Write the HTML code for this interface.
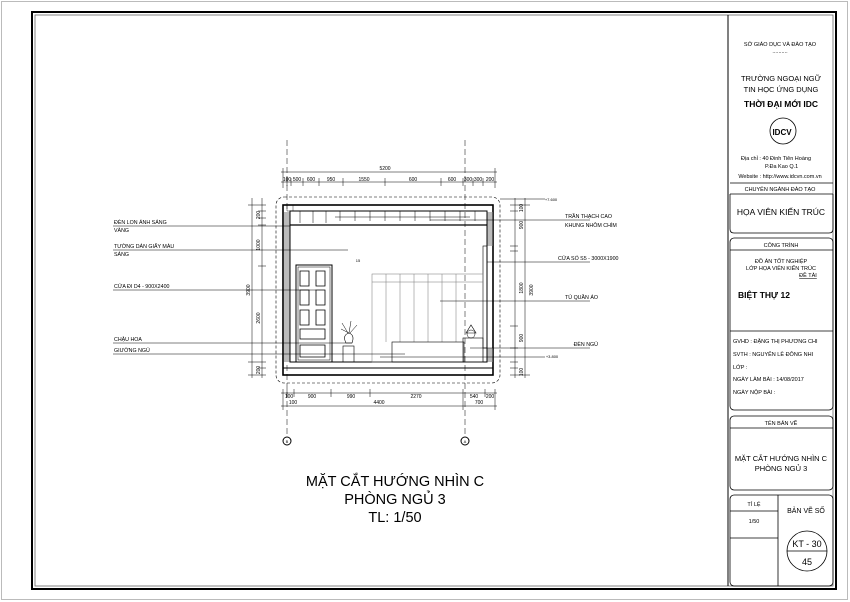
<!DOCTYPE html>
<html><head><meta charset="utf-8"><style>
body{margin:0;background:#fff}
svg{display:block}
text{font-family:"Liberation Sans","Noto Sans CJK SC",sans-serif;fill:#000}
</style></head><body>
<svg width="850" height="602" viewBox="0 0 850 602" xmlns="http://www.w3.org/2000/svg">
<rect x="1.5" y="1.5" width="846" height="598" fill="none" stroke="#bbb" stroke-width="1"/>
<rect x="32" y="12" width="804" height="577" fill="none" stroke="#000" stroke-width="2"/>
<rect x="35" y="15" width="798" height="571" fill="none" stroke="#666" stroke-width="0.8"/>
<line x1="728" y1="15" x2="728" y2="586" stroke="#000" stroke-width="1"/>

<!-- title block -->
<g stroke="#000" stroke-width="0.8" fill="none">
<line x1="730" y1="183" x2="833" y2="183"/>
<line x1="730" y1="194" x2="833" y2="194"/>
<path d="M730 194 V229 q0 4 4 4 H829 q4 0 4-4 V194"/>
<rect x="730" y="238" width="103" height="172" rx="4"/>
<line x1="730" y1="250" x2="833" y2="250"/>
<line x1="730" y1="331" x2="833" y2="331"/>
<rect x="730" y="416" width="103" height="74" rx="4"/>
<line x1="730" y1="428" x2="833" y2="428"/>
<rect x="730" y="495" width="103" height="91" rx="4"/>
<line x1="778" y1="495" x2="778" y2="586"/>
<line x1="730" y1="511" x2="778" y2="511"/>
<line x1="730" y1="538" x2="778" y2="538"/>
<circle cx="807" cy="551" r="20"/>
<line x1="787" y1="551" x2="827" y2="551"/>
<circle cx="783" cy="131" r="13"/>
</g>
<g font-size="5.5" text-anchor="middle">
<text x="780" y="46">SỞ GIÁO DỤC VÀ ĐÀO TẠO</text>
<text x="780" y="53">..........</text>
<text x="781" y="81" font-size="7.5">TRƯỜNG NGOẠI NGỮ</text>
<text x="781" y="92" font-size="7.5">TIN HỌC ỨNG DỤNG</text>
<text x="781" y="107" font-size="8.5" font-weight="bold">THỜI ĐẠI MỚI IDC</text>
<text x="782" y="135" font-size="8" font-weight="bold" font-family="Liberation Serif">IDCV</text>
<text x="741" y="160" style="text-anchor:start">Địa chỉ  : 40 Đinh Tiên Hoàng</text>
<text x="765" y="168" style="text-anchor:start">P.Đa Kao   Q.1</text>
<text x="780" y="178">Website : http://www.idcvn.com.vn</text>
<text x="780" y="191">CHUYÊN NGÀNH ĐÀO TẠO</text>
<text x="781" y="215" font-size="8.5">HỌA VIÊN KIẾN TRÚC</text>
<text x="781" y="247">CÔNG TRÌNH</text>
<text x="781" y="263">ĐỒ ÁN TỐT NGHIỆP</text>
<text x="781" y="270">LỚP HỌA VIÊN KIẾN TRÚC</text>
<text x="808" y="277" text-decoration="underline">ĐỀ TÀI</text>
<text x="738" y="298" font-size="8.5" font-weight="bold" style="text-anchor:start">BIỆT THỰ 12</text>
<g style="text-anchor:start">
<text x="733" y="343">GVHD  : ĐẶNG THỊ PHƯƠNG CHI</text>
<text x="733" y="356">SVTH   : NGUYỄN LÊ ĐÔNG NHI</text>
<text x="733" y="369">LỚP      :</text>
<text x="733" y="381">NGÀY LÀM BÀI  :  14/08/2017</text>
<text x="733" y="394">NGÀY NỘP BÀI  :</text>
</g>
<text x="781" y="425">TÊN BẢN VẼ</text>
<text x="781" y="461" font-size="7.5">MẶT CẮT HƯỚNG NHÌN C</text>
<text x="781" y="471" font-size="7.5">PHÒNG NGỦ 3</text>
<text x="754" y="506">TỈ LỆ</text>
<text x="754" y="523">1/50</text>
<text x="806" y="513" font-size="7">BẢN VẼ SỐ</text>
<text x="807" y="547" font-size="9">KT - 30</text>
<text x="807" y="565" font-size="9">45</text>
</g>

<!-- drawing -->
<g stroke="#000" fill="none">
<rect x="276" y="197" width="224" height="186" rx="8" stroke-dasharray="3 2" stroke-width="0.6"/>
<line x1="287" y1="140" x2="287" y2="436" stroke-dasharray="6 3" stroke-width="0.5"/>
<line x1="465" y1="140" x2="465" y2="436" stroke-dasharray="6 3" stroke-width="0.5"/>
<circle cx="287" cy="441" r="4" stroke-width="1"/>
<circle cx="465" cy="441" r="4" stroke-width="1"/>
<rect x="283" y="205" width="210" height="170" stroke-width="1.6"/>
<rect x="290" y="211" width="197" height="151" stroke-width="1"/>
<line x1="283" y1="368" x2="493" y2="368" stroke-width="1"/>
<line x1="290" y1="225" x2="487" y2="225" stroke-width="1.2"/>
<line x1="335" y1="217" x2="470" y2="217" stroke-width="0.5"/>
<path d="M300 211 v12 M313 211 v12 M326 211 v12 M340 211 v10 M355 211 v10 M370 211 v10 M385 211 v10 M400 211 v10 M415 211 v10 M430 211 v10 M445 211 v10 M460 211 v10 M475 211 v10" stroke-width="0.5"/>
<rect x="483" y="246" width="4" height="102" stroke-width="0.6"/>
<!-- door -->
<rect x="296" y="265" width="36" height="97" stroke-width="1"/>
<rect x="298" y="267" width="32" height="93" stroke-width="0.5"/>
<path d="M300 271h9v15h-9z M316 271h9v15h-9z M300 290h9v15h-9z M316 290h9v15h-9z M300 310h9v15h-9z M316 310h9v15h-9z M300 329h25v10h-25z M300 345h25v12h-25z" stroke-width="0.8"/>
<!-- wardrobe -->
<g stroke="#777" stroke-width="0.5">
<rect x="372" y="274" width="111" height="88"/>
<line x1="372" y1="282" x2="483" y2="282"/>
<path d="M386 274v68 M400 274v68 M414 274v68 M428 274v68 M442 274v68 M456 274v68"/>
</g>
<rect x="392" y="342" width="72" height="20" stroke-width="0.6"/>
<rect x="463" y="338" width="20" height="24" stroke-width="0.6"/>
<path d="M466 333l5-8 5 8z" stroke-width="0.6"/>
<circle cx="471" cy="334" r="4" stroke-width="0.5"/>
<rect x="343" y="346" width="11" height="16" stroke-width="0.6"/>
<path d="M346 343q-4-8 3-10q6 2 3 10z" stroke-width="0.6"/>
<path d="M348 333l-6-10 M349 333l2-12 M350 333l7-8 M349 333l-8-4" stroke-width="0.5"/>
<path d="M287 205 h6v6h-6z" stroke-width="0.4"/>
</g>
<g fill="#bbb"><rect x="284" y="212" width="5.5" height="150"/><rect x="487.5" y="212" width="5" height="34"/><rect x="487.5" y="348" width="5" height="14"/></g>
<g stroke="#000" stroke-width="0.5" fill="none">
<line x1="281" y1="172" x2="497" y2="172"/><line x1="281" y1="182" x2="497" y2="182"/>
<path d="M283 168v20 M495 168v20 M287 178v8 M291 178v8 M303 178v8 M319 178v8 M343 178v8 M385 178v8 M441 178v8 M463 178v8 M473 178v8 M483 178v8"/>
<line x1="281" y1="393" x2="497" y2="393"/><line x1="281" y1="406" x2="497" y2="406"/>
<path d="M283 389v21 M495 389v21 M287 389v8 M294 389v8 M331 389v8 M370 389v8 M463 389v21 M485 389v8"/>
<line x1="252" y1="198" x2="252" y2="378"/><line x1="262" y1="198" x2="262" y2="378"/>
<path d="M248 205h18 M258 211h8 M258 218h8 M258 225h8 M258 266h8 M248 362h18 M258 368h8 M248 375h18"/>
<line x1="515" y1="198" x2="515" y2="378"/><line x1="525" y1="198" x2="525" y2="378"/>
<path d="M510 205h20 M510 211h8 M510 246h8 M510 251h8 M510 326h8 M510 348h8 M510 362h8 M510 368h8 M510 375h20"/>
<path d="M113 226H290 M113 250H348 M113 290H316 M113 343H352 M113 354H405"/>
<path d="M430 220H590 M487 262H590 M440 301H590 M470 348H590"/>
<path d="M500 199h45 M380 357h165"/>
</g>
<g font-size="5" text-anchor="middle">
<text x="385" y="170">5200</text>
<text x="287" y="181">100</text><text x="297" y="181">500</text><text x="311" y="181">600</text><text x="331" y="181">950</text><text x="364" y="181">1550</text><text x="413" y="181">600</text><text x="452" y="181">600</text><text x="468" y="181">300</text><text x="478" y="181">300</text><text x="490" y="181">200</text>
<text x="289" y="398">100</text><text x="312" y="398">900</text><text x="351" y="398">990</text><text x="416" y="398">2270</text><text x="474" y="398">540</text><text x="490" y="398">200</text>
<text x="293" y="404">100</text>
<text x="379" y="404">4400</text><text x="479" y="404">700</text>
<text x="358" y="262" font-size="4">15</text>
<text x="551" y="201" font-size="4">+7.600</text><text x="552" y="358" font-size="4">+3.800</text>
</g>
<g font-size="5" text-anchor="middle">
<text transform="translate(250,290) rotate(-90)">3900</text>
<text transform="translate(260,318) rotate(-90)">2600</text>
<text transform="translate(260,245) rotate(-90)">1000</text>
<text transform="translate(260,215) rotate(-90)">200</text>
<text transform="translate(260,370) rotate(-90)">200</text>
<text transform="translate(523,225) rotate(-90)">900</text>
<text transform="translate(523,288) rotate(-90)">1800</text>
<text transform="translate(523,338) rotate(-90)">900</text>
<text transform="translate(533,290) rotate(-90)">3900</text>
<text transform="translate(523,208) rotate(-90)">100</text>
<text transform="translate(523,372) rotate(-90)">100</text>
</g>
<g font-size="5.3">
<text x="114" y="224">ĐÈN LON ÁNH SÁNG</text><text x="114" y="232">VÀNG</text>
<text x="114" y="248">TƯỜNG DÁN GIẤY MÀU</text><text x="114" y="256">SÁNG</text>
<text x="114" y="288">CỬA ĐI D4 - 900X2400</text>
<text x="114" y="341">CHẬU HOA</text>
<text x="114" y="352">GIƯỜNG NGỦ</text>
<text x="565" y="218">TRẦN THẠCH CAO</text><text x="565" y="227">KHUNG NHÔM CHÌM</text>
<text x="558" y="260">CỬA SỔ S5 - 3000X1900</text>
<text x="598" y="299" text-anchor="end">TỦ QUẦN ÁO</text>
<text x="598" y="346" text-anchor="end">ĐÈN NGỦ</text>
</g>
<g font-size="4" text-anchor="middle"><text x="287" y="443">B</text><text x="465" y="443">A</text></g>
<g font-size="14.5" text-anchor="middle">
<text x="395" y="486">MẶT CẮT HƯỚNG NHÌN C</text>
<text x="395" y="504">PHÒNG NGỦ 3</text>
<text x="395" y="522">TL:  1/50</text>
</g>
</svg>
</body></html>
